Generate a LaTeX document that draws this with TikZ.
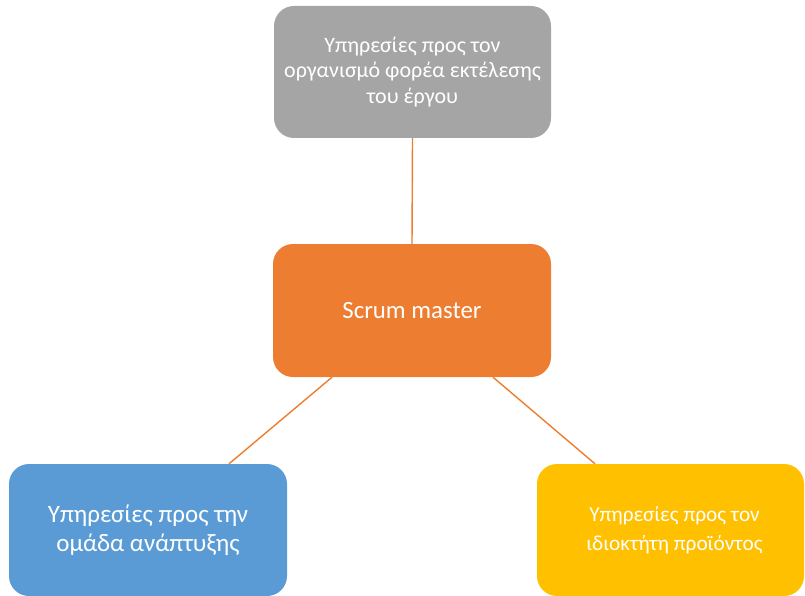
\documentclass[tikz,border=0pt]{standalone}
\usepackage{fontspec}
\setmainfont{Carlito}
\definecolor{boxgray}{HTML}{A5A5A5}
\definecolor{boxorange}{HTML}{ED7D31}
\definecolor{boxblue}{HTML}{5B9BD5}
\definecolor{boxyellow}{HTML}{FFC000}
\tikzset{
  rolebox/.style={rectangle, rounded corners=20pt, draw=none, text=white,
    align=center, inner sep=0pt},
  link/.style={draw=boxorange, line width=1.4pt}
}
\begin{document}
\begin{tikzpicture}[x=1pt, y=-1pt]
  \useasboundingbox (0,0) rectangle (805,596);
  % outer services
  \node[rolebox, fill=boxgray, minimum width=277pt, minimum height=132pt,
        font=\fontsize{22}{25.5}\selectfont] (org) at (412.5,72)
        {Υπηρεσίες προς τον\\οργανισμό φορέα εκτέλεσης\\του έργου};
  \node[rolebox, fill=boxorange, minimum width=278pt, minimum height=133pt,
        font=\fontsize{24.8}{29}\selectfont] (sm) at (412,310.5) {Scrum master};
  \node[rolebox, fill=boxblue, minimum width=278pt, minimum height=132pt,
        font=\fontsize{25}{29.5}\selectfont] (team) at (148,530)
        {Υπηρεσίες προς την\\ομάδα ανάπτυξης};
  \node[rolebox, fill=boxyellow, minimum width=267pt, minimum height=132pt,
        font=\fontsize{21.3}{28.5}\selectfont] (po) at (670.5,530)
        {\hspace*{8pt}Υπηρεσίες προς τον\\\hspace*{8pt}ιδιοκτήτη προϊόντος};
  % connectors
  \draw[link] (org.south) -- (sm.north);
  \draw[link] ([xshift=-80pt]sm.south) -- ([xshift=81pt]team.north);
  \draw[link] ([xshift=81pt]sm.south) -- ([xshift=-75.5pt]po.north);
\end{tikzpicture}
\end{document}
